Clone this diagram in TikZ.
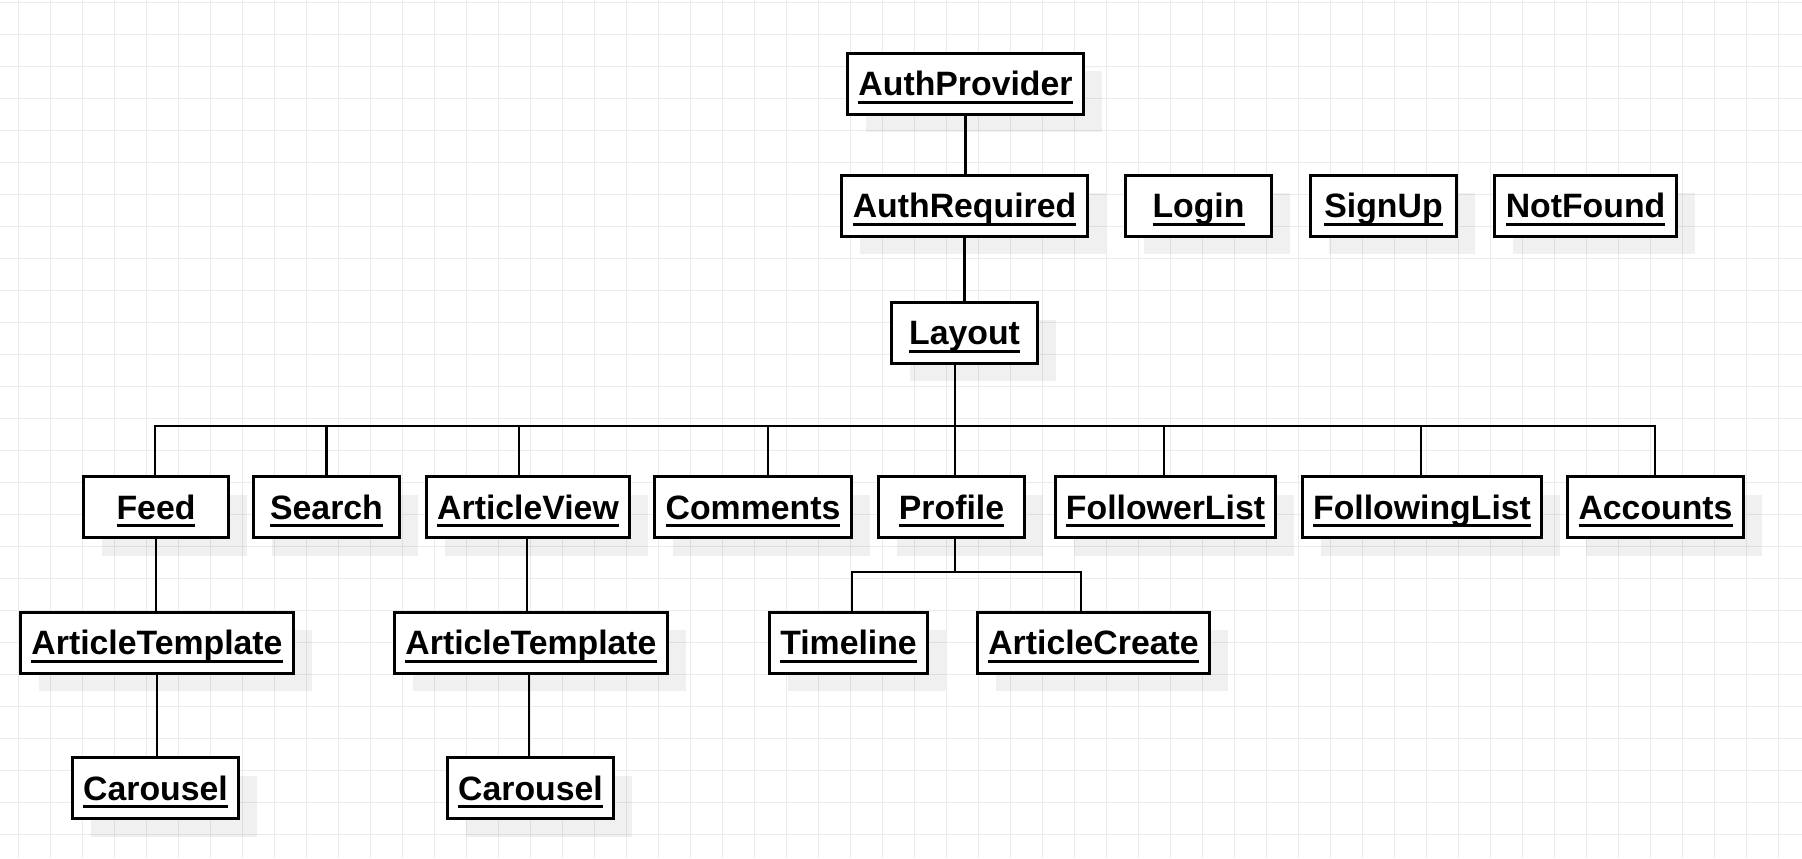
\documentclass[tikz,border=0pt]{standalone}
\usepackage{fontspec}
\setmainfont{Liberation Sans}
\usetikzlibrary{shadows}
\newsavebox{\ulbox}
\newcommand{\ulname}[1]{\sbox{\ulbox}{#1}\rlap{\usebox{\ulbox}}\raisebox{-4pt}{\rule{\wd\ulbox}{1.3pt}}}
\tikzset{
  comp/.style={draw, line width=1.5pt, fill=white, minimum width={(#1-3)*.5pt}, minimum height=30.5pt,
    inner xsep=0pt, text height=14.5pt, text depth=2.5pt, font=\fontsize{16.9pt}{20pt}\selectfont\bfseries,
    drop shadow={shadow xshift=9pt, shadow yshift=-9pt, fill=black, opacity=.06}},
  link/.style={line width=1.45pt},
  gridline/.style={line width=.5pt, draw=black!8},
}

\begin{document}
\begin{tikzpicture}[x=.5pt,y=-.5pt]
                \useasboundingbox (0,0) rectangle (1802,858);
                \fill[white] (0,0) rectangle (1802,858);
                \foreach \x in {18,50,...,1800} \draw[gridline] (\x,0) -- (\x,858);
                \foreach \y in {2,34,...,850} \draw[gridline] (0,\y) -- (1802,\y);
                % top of the tree
                \node[comp=239] (authprov) at (965.5,83.5) {\ulname{AuthProvider}};
                \node[comp=249] (authreq) at (964.5,205.5) {\ulname{AuthRequired}};
                \node[comp=149] (login) at (1198.5,205.5) {\ulname{Login}};
                \node[comp=149] (signup) at (1383.5,205.5) {\ulname{SignUp}};
                \node[comp=185] (notfound) at (1585.5,205.5) {\ulname{NotFound}};
                \node[comp=149] (layout) at (964.5,332.5) {\ulname{Layout}};
                % pages
                \node[comp=148] (feed) at (156,507) {\ulname{Feed}};
                \node[comp=149] (search) at (326.5,507) {\ulname{Search}};
                \node[comp=206] (artview) at (528,507) {\ulname{ArticleView}};
                \node[comp=200] (comments) at (753,507) {\ulname{Comments}};
                \node[comp=149] (profile) at (951.5,507) {\ulname{Profile}};
                \node[comp=223] (followers) at (1165.5,507) {\ulname{FollowerList}};
                \node[comp=242] (following) at (1422,507) {\ulname{FollowingList}};
                \node[comp=179] (accounts) at (1655.5,507) {\ulname{Accounts}};
                % children
                \node[comp=276] (tmplA) at (157,642.5) {\ulname{ArticleTemplate}};
                \node[comp=276] (tmplB) at (531,642.5) {\ulname{ArticleTemplate}};
                \node[comp=161] (timeline) at (848.5,642.5) {\ulname{Timeline}};
                \node[comp=235] (artcreate) at (1093.5,642.5) {\ulname{ArticleCreate}};
                \node[comp=169] (carA) at (155.5,788) {\ulname{Carousel}};
                \node[comp=169] (carB) at (530.5,788) {\ulname{Carousel}};
                % connectors
                \draw[link] (authprov.south) -- (authprov.south |- authreq.north);
                \draw[link] (authreq.south) -- (authreq.south |- layout.north);
                \coordinate (bus) at (955,426);
                \draw[link] (layout.south -| bus) -- (bus);
                \foreach \n/\dx in {feed/-.5, search/0, artview/-4.5, comments/7.5, profile/1.75, followers/-.75, following/-.5, accounts/-.25}
                    \draw[link] (bus) -| ([xshift=\dx pt]\n.north);
                \coordinate (pbus) at (955,572);
                \draw[link] (profile.south -| pbus) -- (pbus);
                \foreach \n/\dx in {timeline/1.75, artcreate/-6.25}
                    \draw[link] (pbus) -| ([xshift=\dx pt]\n.north);
                \draw[link] (feed.south) -- (feed.south |- tmplA.north);
                \draw[link] (tmplA.south) -- (tmplA.south |- carA.north);
                \draw[link] ([xshift=-.5pt]artview.south) -- ([xshift=-.5pt]artview.south |- tmplB.north);
                \draw[link] ([xshift=-1pt]tmplB.south) -- ([xshift=-1pt]tmplB.south |- carB.north);
\end{tikzpicture}
\end{document}
